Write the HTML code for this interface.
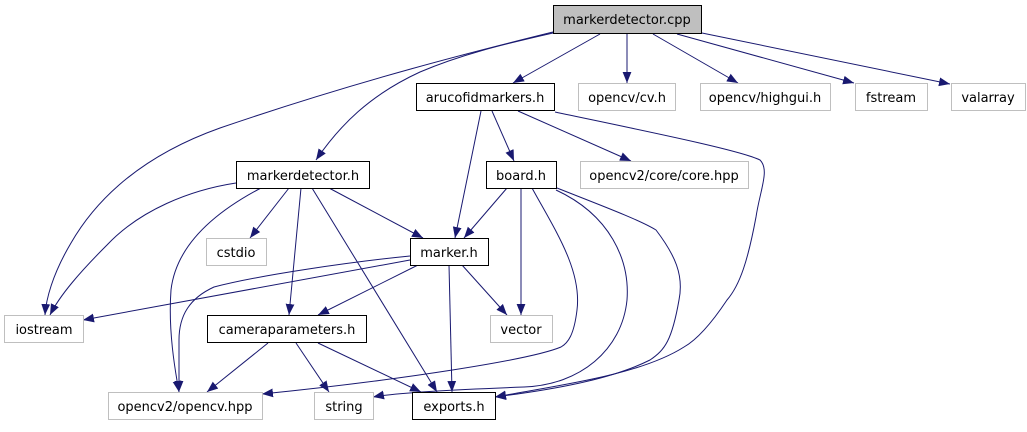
<!DOCTYPE html>
<html><head><meta charset="utf-8"><style>
html,body{margin:0;padding:0;background:#fff;}
svg text{font-family:"DejaVu Sans","Liberation Sans",sans-serif;font-size:13px;fill:#000;text-anchor:middle;}
</style></head><body>
<svg width="1027" height="427" viewBox="0 0 1027 427" xmlns="http://www.w3.org/2000/svg">
<defs><marker id="a" viewBox="0 0 10 10" refX="10" refY="5" markerWidth="11" markerHeight="11" markerUnits="userSpaceOnUse" orient="auto"><path d="M0,1 L10,5 L0,9 z" fill="#191970"/></marker></defs>
<g fill="none" stroke="#191970" stroke-width="1" marker-end="url(#a)">
<path d="M553,32 C480,50 360,80 220,128 C130,160 90,210 71,243 C52,275 46,300 45,315"/>
<path d="M553,33 C500,45 460,55 420,72 C370,95 340,125 316,160"/>
<path d="M600,34 L513,83"/>
<path d="M627,34 L627,83"/>
<path d="M653,34 L738,83"/>
<path d="M677,34 L854,83"/>
<path d="M702,33 L950,84"/>
<path d="M481,111 L455,238"/>
<path d="M492,111 L514,161"/>
<path d="M518,111 L631,161"/>
<path d="M555,112 C640,130 740,150 760,160 C770,170 760,190 756,217 C748,260 740,285 727,300 C715,318 700,338 684,347 C640,375 560,385 495,397"/>
<path d="M507,188 L464,238"/>
<path d="M521,188 L521,315"/>
<path d="M532,188 C555,230 582,270 577,310 C574,335 568,343 561,347 C530,360 400,380 262,394"/>
<path d="M556,190 C610,215 630,260 627,300 C622,350 580,385 524,387 C470,389 400,392 373,397"/>
<path d="M557,188 C600,205 640,220 656,230 C675,255 684,275 679,300 C672,340 665,350 650,360 C610,380 550,390 495,397"/>
<path d="M236,183 C190,190 140,210 107,245 C80,272 60,295 50,315"/>
<path d="M261,188 C200,220 175,255 171,290 C168,330 175,370 179,392"/>
<path d="M289,188 L250,238"/>
<path d="M301,188 L289,315"/>
<path d="M312,188 L437,392"/>
<path d="M329,188 L423,238"/>
<path d="M410,256 C350,262 260,275 214,287 C190,298 179,315 179,340 C179,360 179,380 179,392"/>
<path d="M410,260 L83,320"/>
<path d="M418,265 L318,315"/>
<path d="M462,265 L507,315"/>
<path d="M449,265 L452,392"/>
<path d="M268,343 L207,392"/>
<path d="M296,343 L329,392"/>
<path d="M318,343 L421,392"/>
</g>
<g stroke-width="1">
<rect x="553.5" y="5.5" width="148" height="28" fill="#bfbfbf" stroke="#000"/><text x="627" y="24">markerdetector.cpp</text>
<rect x="416.5" y="83.5" width="138" height="27" fill="#fff" stroke="#000"/><text x="485" y="102">arucofidmarkers.h</text>
<rect x="578.5" y="83.5" width="97" height="27" fill="#fff" stroke="#bfbfbf"/><text x="627" y="102">opencv/cv.h</text>
<rect x="700.5" y="83.5" width="130" height="27" fill="#fff" stroke="#bfbfbf"/><text x="765" y="102">opencv/highgui.h</text>
<rect x="855.5" y="83.5" width="72" height="27" fill="#fff" stroke="#bfbfbf"/><text x="891" y="102">fstream</text>
<rect x="951.5" y="83.5" width="74" height="27" fill="#fff" stroke="#bfbfbf"/><text x="988" y="102">valarray</text>
<rect x="236.5" y="161.5" width="133" height="27" fill="#fff" stroke="#000"/><text x="303" y="180">markerdetector.h</text>
<rect x="486.5" y="161.5" width="70" height="27" fill="#fff" stroke="#000"/><text x="521" y="180">board.h</text>
<rect x="580.5" y="161.5" width="168" height="27" fill="#fff" stroke="#bfbfbf"/><text x="664" y="180">opencv2/core/core.hpp</text>
<rect x="206.5" y="238.5" width="60" height="27" fill="#fff" stroke="#bfbfbf"/><text x="236" y="257">cstdio</text>
<rect x="410.5" y="238.5" width="78" height="27" fill="#fff" stroke="#000"/><text x="449" y="257">marker.h</text>
<rect x="4.5" y="315.5" width="79" height="27" fill="#fff" stroke="#bfbfbf"/><text x="44" y="334">iostream</text>
<rect x="207.5" y="315.5" width="159" height="27" fill="#fff" stroke="#000"/><text x="287" y="334">cameraparameters.h</text>
<rect x="490.5" y="315.5" width="62" height="27" fill="#fff" stroke="#bfbfbf"/><text x="521" y="334">vector</text>
<rect x="108.5" y="392.5" width="154" height="27" fill="#fff" stroke="#bfbfbf"/><text x="185" y="411">opencv2/opencv.hpp</text>
<rect x="314.5" y="392.5" width="59" height="27" fill="#fff" stroke="#bfbfbf"/><text x="344" y="411">string</text>
<rect x="412.5" y="392.5" width="83" height="27" fill="#fff" stroke="#000"/><text x="454" y="411">exports.h</text>
</g>
</svg>
</body></html>
